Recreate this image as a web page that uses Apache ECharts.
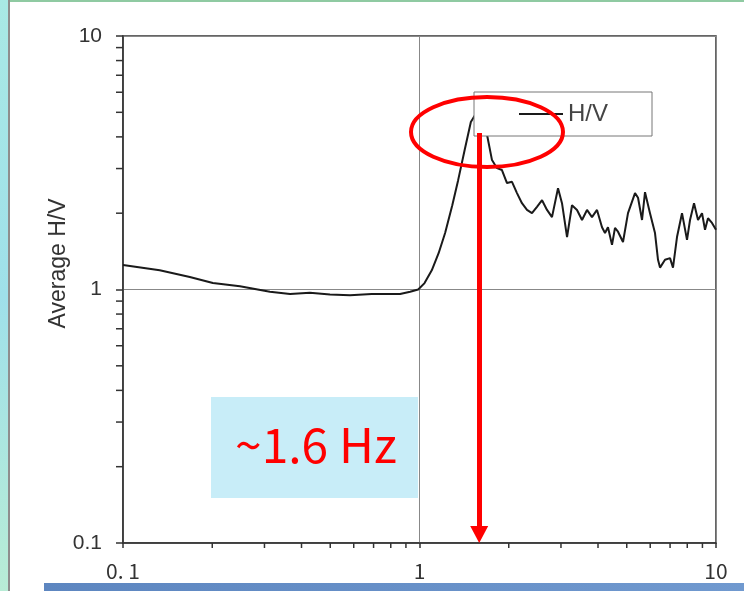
<!DOCTYPE html>
<html>
<head>
<meta charset="utf-8">
<script src="https://cdn.jsdelivr.net/npm/echarts@6/dist/echarts.min.js"></script>
<style>
html, body { margin: 0; padding: 0; background: #fff; }
#chart { width: 744px; height: 591px; }
</style>
</head>
<body>
<div id="chart"></div>
<script>
// frequency (Hz) and average H/V
var freq = [0.1, 0.133, 0.168, 0.201, 0.248, 0.313, 0.366, 0.427, 0.499, 0.583, 0.69, 0.86, 0.93, 0.99,
  1.04, 1.10, 1.16, 1.22, 1.29, 1.35, 1.42, 1.49, 1.56, 1.62,
  1.69, 1.756, 1.826, 1.897, 1.973, 2.051, 2.132, 2.216, 2.304, 2.395, 2.49, 2.59, 2.692, 2.798,
  2.932, 3.024, 3.145, 3.268, 3.398, 3.533, 3.672, 3.817, 3.969, 4.126, 4.223, 4.322, 4.459,
  4.564, 4.672, 4.857, 5.049, 5.332, 5.458, 5.63, 5.762, 5.99, 6.227, 6.374, 6.474, 6.73,
  6.997, 7.161, 7.387, 7.68, 7.984, 8.173, 8.431, 8.697, 8.972, 9.182, 9.397, 9.694, 10];
var hv = [1.25, 1.19, 1.12, 1.06, 1.03, 0.98, 0.96, 0.97, 0.955, 0.95, 0.96, 0.96, 0.98, 1.0,
  1.06, 1.19, 1.39, 1.67, 2.15, 2.70, 3.55, 4.58, 5.0, 4.5,
  4.07, 3.24, 3.01, 2.96, 2.63, 2.66, 2.40, 2.19, 2.06, 2.00, 2.12, 2.25, 2.06, 1.93,
  2.51, 2.19, 1.61, 2.15, 2.06, 1.88, 2.06, 1.93, 2.06, 1.76, 1.67, 1.76, 1.50,
  1.75, 1.69, 1.54, 2.00, 2.40, 2.30, 1.88, 2.42, 2.00, 1.67, 1.31, 1.22, 1.31,
  1.33, 1.22, 1.61, 2.00, 1.57, 1.88, 2.19, 1.88, 2.00, 1.72, 1.91, 1.83, 1.72];
var minorTicks = [0.2, 0.3, 0.4, 0.5, 0.6, 0.7, 0.8, 0.9, 2, 3, 4, 5, 6, 7, 8, 9];
var peakFreq = 1.59;
var arrowTop = 4.14;
var arrowEnd = 0.108;

var pts = [];
for (var i = 0; i < freq.length; i++) {
  pts.push([freq[i], hv[i]]);
}
var yTickData = minorTicks.map(function (v) { return [0.1, v]; });
var xTickData = minorTicks.map(function (v) { return [v, 0.1]; });

var chart = echarts.init(document.getElementById('chart'));
var option = {
  backgroundColor: '#ffffff',
  animation: false,
  grid: {
    left: 123, top: 36, right: 28, bottom: 48,
    show: true, borderColor: '#333', borderWidth: 1.5, backgroundColor: '#fff'
  },
  legend: {
    data: [{ name: 'H/V', icon: 'rect' }],
    left: 474, top: 92,
    padding: [10, 44, 10, 45],
    itemWidth: 44, itemHeight: 2,
    backgroundColor: '#fff',
    borderColor: '#777', borderWidth: 1,
    textStyle: { fontFamily: 'Liberation Sans', fontSize: 24, color: '#444' },
    selectedMode: false
  },
  xAxis: {
    type: 'log', logBase: 10, min: 0.1, max: 10,
    axisLine: { show: true, lineStyle: { color: '#333', width: 1.5 } },
    axisTick: { show: true, length: 5, lineStyle: { color: '#333', width: 1.5 } },
    axisLabel: {
      margin: 18, fontSize: 21, color: '#333', fontFamily: 'Noto Sans CJK JP',
      formatter: function (v) { return v === 0.1 ? '0. 1' : String(v); }
    },
    splitLine: { show: true, lineStyle: { color: '#888', width: 1 } }
  },
  yAxis: {
    type: 'log', logBase: 10, min: 0.1, max: 10,
    name: 'Average H/V', nameLocation: 'middle', nameRotate: 90, nameGap: 53,
    nameMoveOverlap: false,
    nameTextStyle: { fontFamily: 'Liberation Sans', fontSize: 23, color: '#333', padding: [0, 0, 0, 52] },
    axisLine: { show: true, lineStyle: { color: '#333', width: 1.5 } },
    axisTick: { show: true, length: 7, lineStyle: { color: '#333', width: 1.5 } },
    axisLabel: { margin: 21, fontSize: 21, color: '#333', fontFamily: 'Liberation Sans' },
    splitLine: { show: true, lineStyle: { color: '#888', width: 1 } }
  },
  series: [
    {
      name: 'H/V',
      type: 'line',
      data: pts,
      symbol: 'none',
      lineStyle: { color: '#1a1a1a', width: 2 },
      itemStyle: { color: '#1a1a1a' },
      z: 3,
      markLine: {
        silent: true,
        symbol: ['none', 'triangle'],
        symbolSize: [18, 17],
        lineStyle: { color: '#ff0000', width: 5, type: 'solid' },
        label: { show: false },
        z: 20,
        data: [[{ coord: [peakFreq, arrowTop] }, { coord: [peakFreq, arrowEnd] }]]
      }
    },
    {
      name: 'yminor',
      type: 'custom',
      clip: false,
      silent: true,
      data: yTickData,
      renderItem: function (params, api) {
        var p = api.coord([api.value(0), api.value(1)]);
        return { type: 'line', shape: { x1: p[0] - 7, y1: p[1], x2: p[0], y2: p[1] },
          style: { stroke: '#333', lineWidth: 1.5 } };
      }
    },
    {
      name: 'xminor',
      type: 'custom',
      clip: false,
      silent: true,
      data: xTickData,
      renderItem: function (params, api) {
        var p = api.coord([api.value(0), api.value(1)]);
        return { type: 'line', shape: { x1: p[0], y1: p[1], x2: p[0], y2: p[1] + 5 },
          style: { stroke: '#333', lineWidth: 1.5 } };
      }
    }
  ],
  graphic: [
    // slide background pieces
    { type: 'rect', shape: { x: 0, y: 0, width: 8, height: 591 }, z: -1,
      style: { fill: new echarts.graphic.LinearGradient(0, 0, 0, 1, [
        { offset: 0, color: '#a9e9e5' }, { offset: 0.5, color: '#9fe0ea' }, { offset: 1, color: '#b8ecd6' }]) } },
    { type: 'rect', shape: { x: 8, y: 0, width: 2, height: 591 }, z: -1, style: { fill: '#8e8e8e' } },
    { type: 'rect', shape: { x: 10, y: 0, width: 734, height: 2 }, z: -1, style: { fill: '#8fcaa2' } },
    { type: 'rect', shape: { x: 44, y: 583, width: 700, height: 8 }, z: -1,
      style: { fill: new echarts.graphic.LinearGradient(0, 0, 1, 0, [
        { offset: 0, color: '#5d86c0' }, { offset: 1, color: '#7099cf' }]) } },
    // annotation
    { type: 'rect', shape: { x: 211, y: 397, width: 207, height: 101 }, z: 5,
      style: { fill: '#c8edf8' } },
    { type: 'text', x: 235, y: 445, z: 6,
      style: { text: '~1.6 Hz', fill: '#ff0000', font: '48px "Noto Sans CJK JP"',
        textAlign: 'left', textVerticalAlign: 'middle' } },
    { type: 'ellipse', shape: { cx: 487, cy: 132, rx: 76, ry: 35 }, z: 100,
      style: { fill: 'none', stroke: '#ff0000', lineWidth: 4 } }
  ]
};
chart.setOption(option);
</script>
</body>
</html>
